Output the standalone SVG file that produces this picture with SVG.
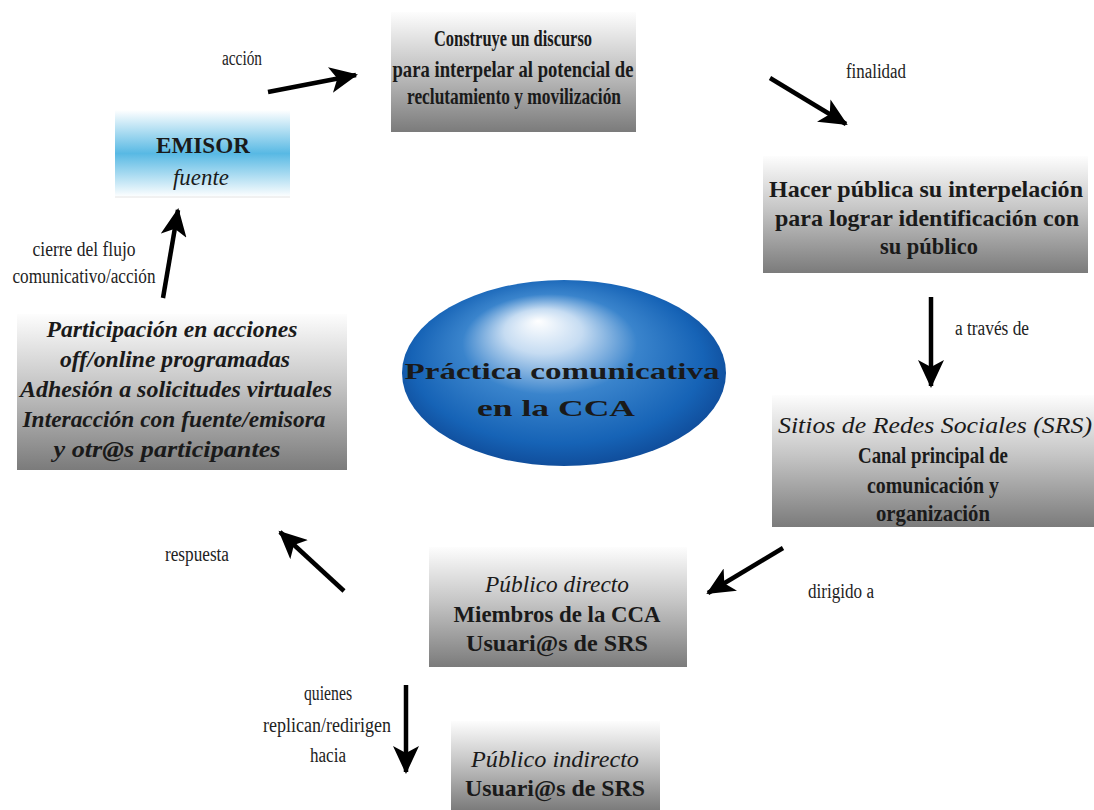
<svg xmlns="http://www.w3.org/2000/svg" width="1094" height="810" viewBox="0 0 1094 810">
<defs>
<linearGradient id="gray" x1="0" y1="0" x2="0" y2="1">
<stop offset="0" stop-color="#fdfdfd"/>
<stop offset="0.45" stop-color="#c6c6c6"/>
<stop offset="1" stop-color="#7b7b7b"/>
</linearGradient>
<linearGradient id="blue" x1="0" y1="0" x2="0" y2="1">
<stop offset="0" stop-color="#ffffff"/>
<stop offset="0.5" stop-color="#58b9e4"/>
<stop offset="1" stop-color="#ffffff"/>
</linearGradient>
<radialGradient id="orb" cx="0.5" cy="0.5" r="0.6" fx="0.42" fy="0.22">
<stop offset="0" stop-color="#ffffff"/>
<stop offset="0.2" stop-color="#c6dcf2"/>
<stop offset="0.45" stop-color="#3a84cc"/>
<stop offset="0.75" stop-color="#1663b6"/>
<stop offset="1" stop-color="#0b3c86"/>
</radialGradient>
<marker id="ah" markerUnits="userSpaceOnUse" markerWidth="30" markerHeight="26" refX="26" refY="13" orient="auto">
<path d="M0,0 L28,13 L0,26 L7,13 Z" fill="#000"/>
</marker>
<style>
.box{font-family:"Liberation Serif",serif;font-weight:bold;font-size:23px;fill:#1a1a1a;text-anchor:middle}
.it{font-style:italic;font-weight:normal}
.itb{font-style:italic;font-weight:bold}
.lbl{font-family:"Liberation Serif",serif;font-size:20px;fill:#222;text-anchor:middle}
.arr{stroke:#000;stroke-width:4.5;fill:none;marker-end:url(#ah)}
</style>
</defs>
<rect width="1094" height="810" fill="#fff"/>

<g id="emisor">
<rect x="115" y="110" width="175" height="87" fill="url(#blue)"/>
<line x1="115" y1="197" x2="290" y2="197" stroke="#e4e4e4" stroke-width="1"/>
<text class="box" x="203" y="153" textLength="94" lengthAdjust="spacingAndGlyphs" font-weight="normal">EMISOR</text>
<text class="box it" x="201" y="185" textLength="56" lengthAdjust="spacingAndGlyphs">fuente</text>
</g>

<g id="discurso">
<rect x="391" y="12" width="245" height="120" fill="url(#gray)"/>
<text class="box" x="513" y="46" textLength="158" lengthAdjust="spacingAndGlyphs">Construye un discurso</text>
<text class="box" x="513" y="77" textLength="241" lengthAdjust="spacingAndGlyphs">para interpelar al potencial de</text>
<text class="box" x="514" y="104" textLength="214" lengthAdjust="spacingAndGlyphs">reclutamiento y movilización</text>
</g>

<g id="hacer">
<rect x="763" y="156" width="325" height="117" fill="url(#gray)"/>
<text class="box" x="926" y="197" textLength="314" lengthAdjust="spacingAndGlyphs">Hacer pública su interpelación</text>
<text class="box" x="927" y="226" textLength="304" lengthAdjust="spacingAndGlyphs">para lograr identificación con</text>
<text class="box" x="929" y="254" textLength="98" lengthAdjust="spacingAndGlyphs">su público</text>
</g>

<g id="srs">
<rect x="772" y="395" width="322" height="132" fill="url(#gray)"/>
<text class="box it" x="935" y="433" textLength="314" lengthAdjust="spacingAndGlyphs">Sitios de Redes Sociales (SRS)</text>
<text class="box" x="933" y="463" textLength="150" lengthAdjust="spacingAndGlyphs">Canal principal de</text>
<text class="box" x="933" y="493" textLength="132" lengthAdjust="spacingAndGlyphs">comunicación y</text>
<text class="box" x="933" y="521" textLength="114" lengthAdjust="spacingAndGlyphs">organización</text>
</g>

<g id="directo">
<rect x="429" y="547" width="258" height="120" fill="url(#gray)"/>
<text class="box it" x="557" y="592" textLength="144" lengthAdjust="spacingAndGlyphs">Público directo</text>
<text class="box" x="557" y="622" textLength="207" lengthAdjust="spacingAndGlyphs">Miembros de la CCA</text>
<text class="box" x="557" y="651" textLength="182" lengthAdjust="spacingAndGlyphs">Usuari@s de SRS</text>
</g>

<g id="indirecto">
<rect x="451" y="721" width="209" height="89" fill="url(#gray)"/>
<text class="box it" x="555" y="767" textLength="168" lengthAdjust="spacingAndGlyphs">Público indirecto</text>
<text class="box" x="555" y="796" textLength="180" lengthAdjust="spacingAndGlyphs">Usuari@s de SRS</text>
</g>

<g id="participacion">
<rect x="17" y="314" width="330" height="156" fill="url(#gray)"/>
<text class="box itb" x="172" y="337" textLength="251" lengthAdjust="spacingAndGlyphs">Participación en acciones</text>
<text class="box itb" x="175" y="367" textLength="230" lengthAdjust="spacingAndGlyphs">off/online programadas</text>
<text class="box itb" x="176" y="397" textLength="312" lengthAdjust="spacingAndGlyphs">Adhesión a solicitudes virtuales</text>
<text class="box itb" x="174" y="427" textLength="303" lengthAdjust="spacingAndGlyphs">Interacción con fuente/emisora</text>
<text class="box itb" x="167" y="457" textLength="227" lengthAdjust="spacingAndGlyphs">y otr@s participantes</text>
</g>

<g id="centro">
<ellipse cx="564" cy="373" rx="162" ry="93" fill="url(#orb)"/>
<text class="box" x="562" y="379" font-size="30" textLength="315" lengthAdjust="spacingAndGlyphs" font-weight="normal" fill="#0a1a33">Práctica comunicativa</text>
<text class="box" x="556" y="416" font-size="30" textLength="158" lengthAdjust="spacingAndGlyphs" font-weight="normal" fill="#0a1a33">en la CCA</text>
</g>

<g id="connectors">
<line class="arr" x1="268" y1="92" x2="356" y2="75"/>
<line class="arr" x1="770" y1="78" x2="846" y2="124"/>
<line class="arr" x1="931" y1="297" x2="931" y2="386"/>
<line class="arr" x1="783" y1="548" x2="708" y2="593"/>
<line class="arr" x1="344" y1="591" x2="280" y2="532"/>
<line class="arr" x1="406" y1="685" x2="406" y2="772"/>
<line class="arr" x1="163" y1="298" x2="178" y2="210"/>
<text class="lbl" x="242" y="65" textLength="40" lengthAdjust="spacingAndGlyphs">acción</text>
<text class="lbl" x="876" y="78" textLength="60" lengthAdjust="spacingAndGlyphs">finalidad</text>
<text class="lbl" x="992" y="335" textLength="74" lengthAdjust="spacingAndGlyphs">a través de</text>
<text class="lbl" x="841" y="598" textLength="66" lengthAdjust="spacingAndGlyphs">dirigido a</text>
<text class="lbl" x="197" y="561" textLength="64" lengthAdjust="spacingAndGlyphs">respuesta</text>
<text class="lbl" x="328" y="700" textLength="48" lengthAdjust="spacingAndGlyphs">quienes</text>
<text class="lbl" x="327" y="732" textLength="128" lengthAdjust="spacingAndGlyphs">replican/redirigen</text>
<text class="lbl" x="328" y="762" textLength="36" lengthAdjust="spacingAndGlyphs">hacia</text>
<text class="lbl" x="84" y="256" textLength="103" lengthAdjust="spacingAndGlyphs">cierre del flujo</text>
<text class="lbl" x="84" y="283" textLength="143" lengthAdjust="spacingAndGlyphs">comunicativo/acción</text>
</g>
</svg>
